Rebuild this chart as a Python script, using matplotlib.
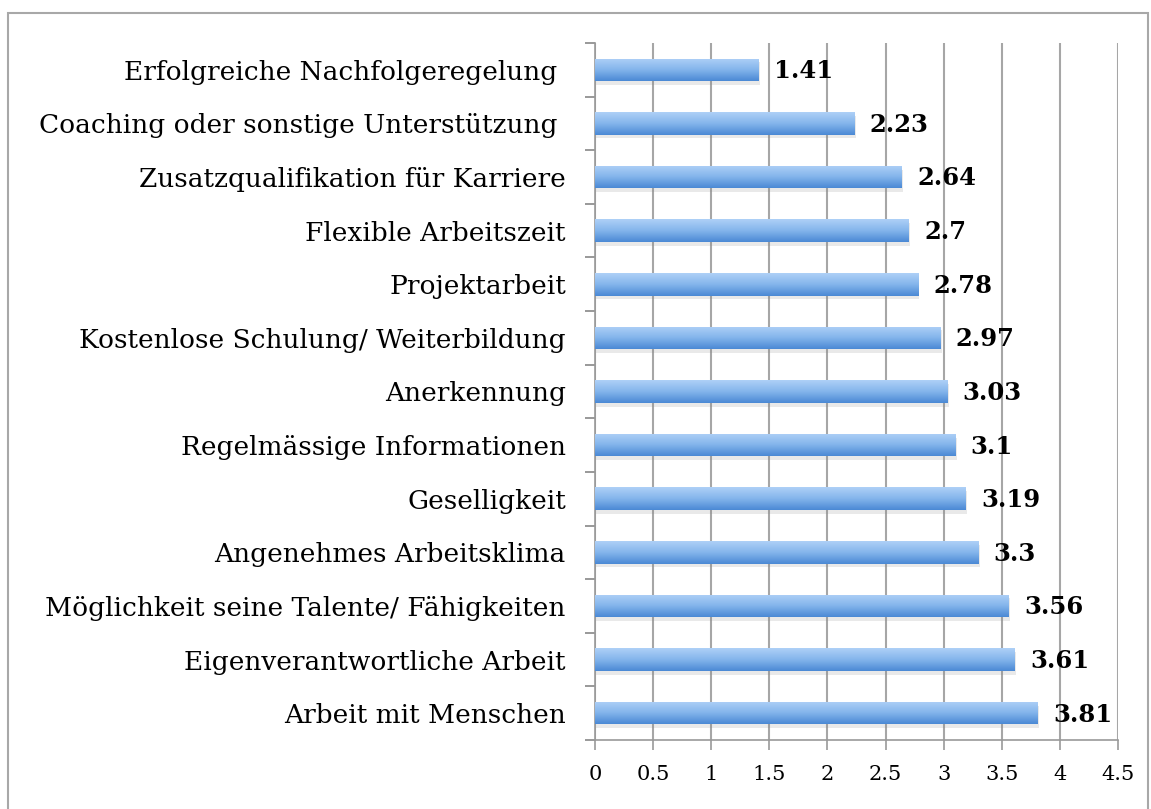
import numpy as np
import matplotlib.pyplot as plt
from matplotlib.colors import LinearSegmentedColormap
from matplotlib.patches import Rectangle

# Data (top to bottom as shown in the chart)
categories = [
    'Erfolgreiche Nachfolgeregelung ',
    'Coaching oder sonstige Unterstützung ',
    'Zusatzqualifikation für Karriere',
    'Flexible Arbeitszeit',
    'Projektarbeit',
    'Kostenlose Schulung/ Weiterbildung',
    'Anerkennung',
    'Regelmässige Informationen',
    'Geselligkeit',
    'Angenehmes Arbeitsklima',
    'Möglichkeit seine Talente/ Fähigkeiten',
    'Eigenverantwortliche Arbeit',
    'Arbeit mit Menschen',
]
values = [1.41, 2.23, 2.64, 2.7, 2.78, 2.97, 3.03, 3.1, 3.19, 3.3, 3.56, 3.61, 3.81]
xticks = [0, 0.5, 1, 1.5, 2, 2.5, 3, 3.5, 4, 4.5]

plt.rcParams['font.family'] = ['DejaVu Serif']

fig = plt.figure(figsize=(11.51, 8.09), dpi=100)
ax = fig.add_axes([595 / 1151, 1 - 740 / 809, 523 / 1151, 697 / 809])

y = np.arange(len(categories))
bar_h = 0.42

# soft shadow under the bars
ax.barh(y + 0.07, values, height=bar_h, left=0.012, color='#888888', alpha=0.18,
        zorder=2, linewidth=0)
bars = ax.barh(y, values, height=bar_h, color='#6fa5e6', zorder=3, linewidth=0)

# vertical gradient inside each bar
cmap = LinearSegmentedColormap.from_list('bluegrad', ['#aed0f7', '#84b5ec', '#4b89d5'])
grad = np.linspace(0, 1, 64).reshape(-1, 1)
for bar, v, yy in zip(bars, values, y):
    im = ax.imshow(grad, extent=(0, v, yy + bar_h / 2, yy - bar_h / 2), origin='upper',
                   aspect='auto', cmap=cmap, zorder=4)
    im.set_clip_path(bar)

for v, yy in zip(values, y):
    ax.annotate(f'{v:g}', (v, yy), xytext=(11, -1), textcoords='offset points',
                ha='left', va='center', fontsize=17.5, fontweight='bold', zorder=5)

ax.set_xlim(0, 4.5)
ax.set_ylim(len(categories) - 0.5, -0.5)
ax.set_xticks(xticks)
ax.set_xticklabels([f'{t:g}' for t in xticks], fontsize=15)
ax.set_yticks(y)
ax.set_yticklabels(categories, fontsize=19)
ax.set_yticks(np.arange(len(categories) + 1) - 0.5, minor=True)

ax.tick_params(axis='y', which='major', length=0, pad=21)
ax.tick_params(axis='y', which='minor', length=7, width=1.2, color='#888888', direction='out')
ax.tick_params(axis='x', length=7, width=1.2, color='#999999', pad=11, direction='out')

ax.grid(axis='x', color='#a6a6a6', linewidth=1.5, zorder=0)
ax.set_axisbelow(True)
for side in ['top', 'right']:
    ax.spines[side].set_visible(False)
ax.spines['left'].set_color('#999999')
ax.spines['left'].set_linewidth(1.2)
ax.spines['bottom'].set_color('#999999')
ax.spines['bottom'].set_linewidth(1.2)

# outer frame around the chart
fig.patches.append(Rectangle((8 / 1151, -0.1), (1148 - 8) / 1151, 1.1 - 13 / 809,
                             transform=fig.transFigure, fill=False,
                             edgecolor='#a8a8a8', linewidth=1.5))

fig.savefig('out.png', dpi=100)
